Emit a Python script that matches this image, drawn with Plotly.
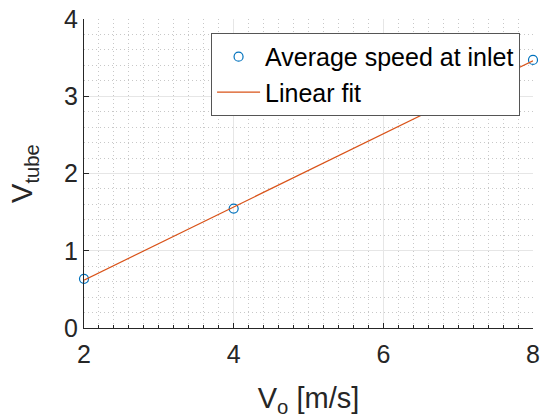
import plotly.graph_objects as go

# Data
v0 = [2, 4, 8]
v_tube = [0.636, 1.546, 3.47]
fit_x = [2, 8]
fit_y = [0.62, 3.46]
x_ticks = [2, 4, 6, 8]
y_ticks = [0, 1, 2, 3, 4]

FONT = "Liberation Sans, Arial, sans-serif"
TXT = "#262626"

fig = go.Figure()
fig.add_trace(go.Scatter(
    x=v0, y=v_tube, mode="markers", name="Average speed at inlet",
    marker=dict(symbol="circle-open", size=9, color="#0072BD", line=dict(width=1.2)),
    cliponaxis=False,
))
fig.add_trace(go.Scatter(
    x=fit_x, y=fit_y, mode="lines", name="Linear fit",
    line=dict(color="#D95319", width=1.2),
    cliponaxis=False,
))

fig.update_layout(
    width=541, height=418,
    margin=dict(l=84, r=8, t=19, b=90),
    paper_bgcolor="white", plot_bgcolor="white",
    font=dict(family=FONT, color=TXT, size=25),
    legend=dict(
        x=0.283, y=0.955, xanchor="left", yanchor="top",
        bgcolor="white", bordercolor="#555555", borderwidth=1,
        font=dict(size=25, color="black"),
        tracegroupgap=0, itemwidth=43,
    ),
    showlegend=True,
)
fig.update_xaxes(
    range=[2, 8], tickvals=x_ticks, ticktext=[str(t) for t in x_ticks],
    automargin=False,
    showline=True, linecolor=TXT, linewidth=1, mirror=False,
    ticks="inside", ticklen=5, tickcolor=TXT, ticklabelstandoff=4,
    showgrid=True, gridcolor="#e6e6e6", gridwidth=1, zeroline=False,
    tickfont=dict(size=25, color=TXT),
    minor=dict(dtick=0.2, showgrid=True, gridcolor="#c8c8c8", griddash="1px,3px",
               ticks="inside", ticklen=3, tickcolor=TXT),
    title=dict(text="V<sub>o</sub> [m/s]", font=dict(size=29, color=TXT), standoff=22),
)
fig.update_yaxes(
    range=[0, 4], tickvals=y_ticks, ticktext=[str(t) for t in y_ticks],
    automargin=False,
    showline=True, linecolor=TXT, linewidth=1, mirror=False,
    ticks="inside", ticklen=5, tickcolor=TXT,
    showgrid=True, gridcolor="#e6e6e6", gridwidth=1, zeroline=False,
    tickfont=dict(size=25, color=TXT),
    minor=dict(dtick=0.2, showgrid=True, gridcolor="#c8c8c8", griddash="1px,3px",
               ticks=""),
    title=dict(text="V<sub>tube</sub>", font=dict(size=29, color=TXT), standoff=22),
)

fig.write_html("out.html")
